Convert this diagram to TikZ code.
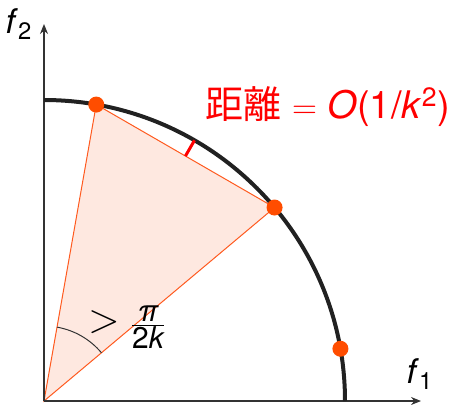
\documentclass[tikz,border=0pt]{standalone}
\usepackage{fontspec}
\setmainfont{TeX Gyre Heros}
\newfontfamily\cjk{Noto Sans CJK JP}
\usetikzlibrary{arrows.meta,calc}
\definecolor{dotred}{HTML}{FF4D00}
\definecolor{edgered}{HTML}{FF5A1F}
\definecolor{wedge}{HTML}{FEE8E0}

\begin{document}
\begin{tikzpicture}[x=0.5pt, y=0.5pt, every node/.style={font=\fontsize{17}{20}\selectfont},
		ax/.style={draw=black!80, line width=0.55pt, -{Stealth[length=5pt, width=4pt]}},
		d/.style={circle, fill=dotred, inner sep=0pt, minimum size=8pt},
		e/.style={draw=edgered, line width=0.5pt}]
	\useasboundingbox (-44,-3) rectangle (407,401);
	\coordinate (o) at (0,0);
	\coordinate (xe) at (377,0);
	\coordinate (ye) at (0,377);
	\coordinate (a) at (80:301);
	\coordinate (b) at (40:301);
	\coordinate (c) at (10:301);
	\coordinate (m) at ($(a)!0.5!(b)$);
	\coordinate (p) at (60:301);
	% wedge between two neighbouring points
	\fill[wedge] (o) -- (a) -- (b) -- cycle;
	\draw[e] (o) -- (a) -- (b) -- cycle;
	\draw[ax] (o) -- (xe);
	\draw[ax] (o) -- (ye);
	\draw[black!87, line width=2pt] (301,0) arc[start angle=0, end angle=90, radius=301];
	\draw[red, line width=1.5pt] (m) -- (p);
	\draw[black!80, line width=0.5pt] (40:75) arc[start angle=40, end angle=80, radius=75];
	\node[d] (pa) at (a) {};
	\node[d] (pb) at (b) {};
	\node[d] (pc) at (c) {};
	\node (f2) at (-25,377) {\itshape f\/\upshape\textsubscript{2}};
	\node (f1) at (376,27) {\itshape f\/\upshape\textsubscript{1}};
	\node[text=red, font=\fontsize{19}{22}\selectfont] (dist) at (284,294) {{\cjk 距離} $=$ \textit{O}(1/\textit{k}\textsuperscript{2})};
	\node[inner sep=0pt, font=\fontsize{22}{24}\selectfont] (gt) at (60,79) {$>$};
	\node[inner sep=0pt, font=\fontsize{15}{18}\selectfont] (ang) at (104,74) {$\frac{\mbox{\itshape π}}{\mbox{2\itshape k}}$};
\end{tikzpicture}
\end{document}
